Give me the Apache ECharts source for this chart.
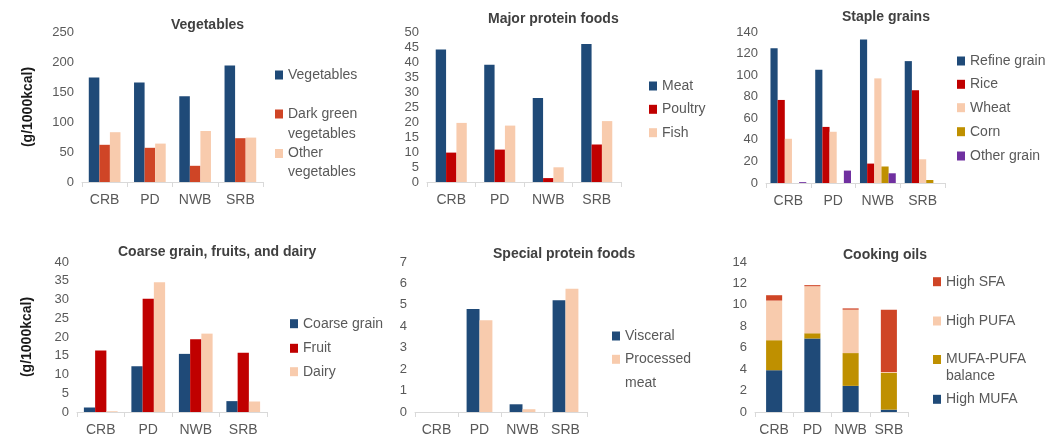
<!DOCTYPE html>
<html>
<head>
<meta charset="utf-8">
<script src="https://cdn.jsdelivr.net/npm/echarts@6/dist/echarts.min.js"></script>
<style>
  html, body { margin: 0; padding: 0; background: #ffffff; }
  #chart { width: 1053px; height: 437px; }
</style>
</head>
<body>
<div id="chart"></div>
<script>
// Regions shown on every category axis
const categories = ['CRB', 'PD', 'NWB', 'SRB'];

// Vegetables (g/1000kcal)
const vegetables = [174, 166, 143, 194];
const darkGreenVegetables = [62, 57, 27, 73];
const otherVegetables = [83, 64, 85, 74];

// Major protein foods
const meat = [44.2, 39.1, 28.0, 46.0];
const poultry = [9.8, 10.8, 1.3, 12.5];
const fish = [19.7, 18.8, 4.9, 20.3];

// Staple grains
const refineGrain = [125, 105, 133, 113];
const rice = [77, 52, 18, 86];
const wheat = [41, 47.5, 97, 22];
const corn = [0, 0, 15.3, 2.8];
const otherGrain = [0.8, 11.5, 9, 0];

// Coarse grain, fruits, and dairy
const coarseGrain = [1.2, 12.2, 15.5, 2.9];
const fruit = [16.4, 30.2, 19.4, 15.8];
const dairy = [0.2, 34.6, 20.9, 2.8];

// Special protein foods
const visceral = [0, 4.81, 0.36, 5.21];
const processedMeat = [0, 4.28, 0.13, 5.75];

// Cooking oils (stacked)
const highMUFA = [3.9, 6.86, 2.44, 0.22];
const mufaPufaBalance = [2.8, 0.49, 3.06, 3.42];
const highPUFA = [3.7, 4.39, 4.05, 0.1];
const highSFA = [0.5, 0.1, 0.12, 5.8];

// Axis tick ranges per panel
const axisMax = [250, 50, 140, 40, 7, 14];
const axisStep = [50, 5, 20, 5, 1, 2];

const FONT = '"Liberation Sans", Arial, sans-serif';
const NAVY = '#1F4A78';
const ORANGE_RED = '#CF4526';
const RED = '#C00000';
const PEACH = '#F8CBAD';
const GOLD = '#BF9000';
const PURPLE = '#7030A0';
const TEXT_GRAY = '#595959';

const panels = [
  {
    title: 'Vegetables', titleLeft: 171, titleTop: 18,
    grid: { left: 82, top: 32, width: 181, height: 150 },
    catGap: '30%', unitName: true, nameGap: 47,
    series: [
      { name: 'Vegetables', data: vegetables, color: NAVY },
      { name: 'Dark green vegetables', data: darkGreenVegetables, color: ORANGE_RED },
      { name: 'Other vegetables', data: otherVegetables, color: PEACH }
    ],
    legendX: 275,
    legend: [
      { name: 'Vegetables', y: 74 },
      { name: 'Dark green vegetables', lines: ['Dark green', 'vegetables'], y: 113, lh: 20 },
      { name: 'Other vegetables', lines: ['Other', 'vegetables'], y: 152.5, lh: 19 }
    ]
  },
  {
    title: 'Major protein foods', titleLeft: 488, titleTop: 12,
    grid: { left: 427, top: 32, width: 194, height: 150 },
    catGap: '36%',
    series: [
      { name: 'Meat', data: meat, color: NAVY },
      { name: 'Poultry', data: poultry, color: RED },
      { name: 'Fish', data: fish, color: PEACH }
    ],
    legendX: 649,
    legend: [
      { name: 'Meat', y: 85 },
      { name: 'Poultry', y: 108.3 },
      { name: 'Fish', y: 131.7 }
    ]
  },
  {
    title: 'Staple grains', titleLeft: 842, titleTop: 10,
    grid: { left: 766, top: 32, width: 179, height: 151 },
    catGap: '20%',
    series: [
      { name: 'Refine grain', data: refineGrain, color: NAVY },
      { name: 'Rice', data: rice, color: RED },
      { name: 'Wheat', data: wheat, color: PEACH },
      { name: 'Corn', data: corn, color: GOLD },
      { name: 'Other grain', data: otherGrain, color: PURPLE }
    ],
    legendX: 957,
    legend: [
      { name: 'Refine grain', y: 60 },
      { name: 'Rice', y: 83.3 },
      { name: 'Wheat', y: 106.7 },
      { name: 'Corn', y: 130.7 },
      { name: 'Other grain', y: 155 }
    ]
  },
  {
    title: 'Coarse grain, fruits, and dairy', titleLeft: 118, titleTop: 245,
    grid: { left: 77, top: 262, width: 190, height: 151 },
    catGap: '29%', unitName: true, nameGap: 43,
    series: [
      { name: 'Coarse grain', data: coarseGrain, color: NAVY },
      { name: 'Fruit', data: fruit, color: RED },
      { name: 'Dairy', data: dairy, color: PEACH }
    ],
    legendX: 290,
    legend: [
      { name: 'Coarse grain', y: 322.7 },
      { name: 'Fruit', y: 347.3 },
      { name: 'Dairy', y: 370.7 }
    ]
  },
  {
    title: 'Special protein foods', titleLeft: 493, titleTop: 247,
    grid: { left: 415, top: 262, width: 172, height: 151 },
    catGap: '40%',
    series: [
      { name: 'Visceral', data: visceral, color: NAVY },
      { name: 'Processed meat', data: processedMeat, color: PEACH }
    ],
    legendX: 612,
    legend: [
      { name: 'Visceral', y: 335 },
      { name: 'Processed meat', lines: ['Processed', 'meat'], y: 358.3, lh: 24 }
    ]
  },
  {
    title: 'Cooking oils', titleLeft: 843, titleTop: 248,
    grid: { left: 755, top: 262, width: 153, height: 151 },
    catGap: '58%', stack: 'oil',
    series: [
      { name: 'High MUFA', data: highMUFA, color: NAVY },
      { name: 'MUFA-PUFA balance', data: mufaPufaBalance, color: GOLD },
      { name: 'High PUFA', data: highPUFA, color: PEACH },
      { name: 'High SFA', data: highSFA, color: ORANGE_RED }
    ],
    legendX: 933,
    legend: [
      { name: 'High SFA', y: 280.7 },
      { name: 'High PUFA', y: 320 },
      { name: 'MUFA-PUFA balance', lines: ['MUFA-PUFA', 'balance'], y: 358.5, lh: 17 },
      { name: 'High MUFA', y: 398.3 }
    ]
  }
];

const option = {
  backgroundColor: '#ffffff',
  animation: false,
  textStyle: { fontFamily: FONT },
  title: [], grid: [], xAxis: [], yAxis: [], series: [], legend: []
};

panels.forEach((p, i) => {
  option.title.push({
    text: p.title, left: p.titleLeft, top: p.titleTop, padding: 0,
    textStyle: { fontFamily: FONT, fontSize: 14, fontWeight: 'bold', color: '#404040' }
  });
  option.grid.push(Object.assign({ containLabel: false }, p.grid));
  option.xAxis.push({
    type: 'category', gridIndex: i, data: categories,
    axisLine: { lineStyle: { color: '#D9D9D9', width: 1 } },
    axisTick: { show: true, length: 5, lineStyle: { color: '#D9D9D9' } },
    axisLabel: { fontFamily: FONT, fontSize: 14, color: TEXT_GRAY, margin: 11, interval: 0, hideOverlap: false }
  });
  option.yAxis.push({
    type: 'value', gridIndex: i, min: 0, max: axisMax[i], interval: axisStep[i],
    splitLine: { show: false },
    axisLine: { show: false },
    axisTick: { show: false },
    axisLabel: { fontFamily: FONT, fontSize: 13, color: TEXT_GRAY, margin: 8 },
    name: p.unitName ? '(g/1000kcal)' : '',
    nameLocation: 'middle', nameRotate: 90, nameGap: p.nameGap || 40,
    nameTextStyle: { fontFamily: FONT, fontSize: 14, fontWeight: 'bold', color: '#1a1a1a' }
  });
  p.series.forEach(s => {
    option.series.push({
      type: 'bar', name: s.name, data: s.data,
      xAxisIndex: i, yAxisIndex: i,
      stack: p.stack,
      barGap: '0%', barCategoryGap: p.catGap,
      itemStyle: { color: s.color },
      emphasis: { disabled: true }
    });
  });
  p.legend.forEach(item => {
    const multi = !!item.lines;
    const lh = item.lh || 16;
    option.legend.push({
      data: [item.name],
      left: p.legendX,
      // a leading blank line keeps the marker level with the first text line
      top: multi ? item.y - lh - 7 - (lh - 16) / 2 : item.y - 7,
      padding: 0, itemGap: 0,
      itemWidth: 8, itemHeight: 9,
      icon: 'rect',
      selectedMode: false,
      formatter: multi ? (' \n' + item.lines.join('\n')) : '{name}',
      textStyle: { fontFamily: FONT, fontSize: 14, color: TEXT_GRAY, lineHeight: lh }
    });
  });
});

const chart = echarts.init(document.getElementById('chart'), null, { renderer: 'canvas' });
chart.setOption(option);
</script>
</body>
</html>
